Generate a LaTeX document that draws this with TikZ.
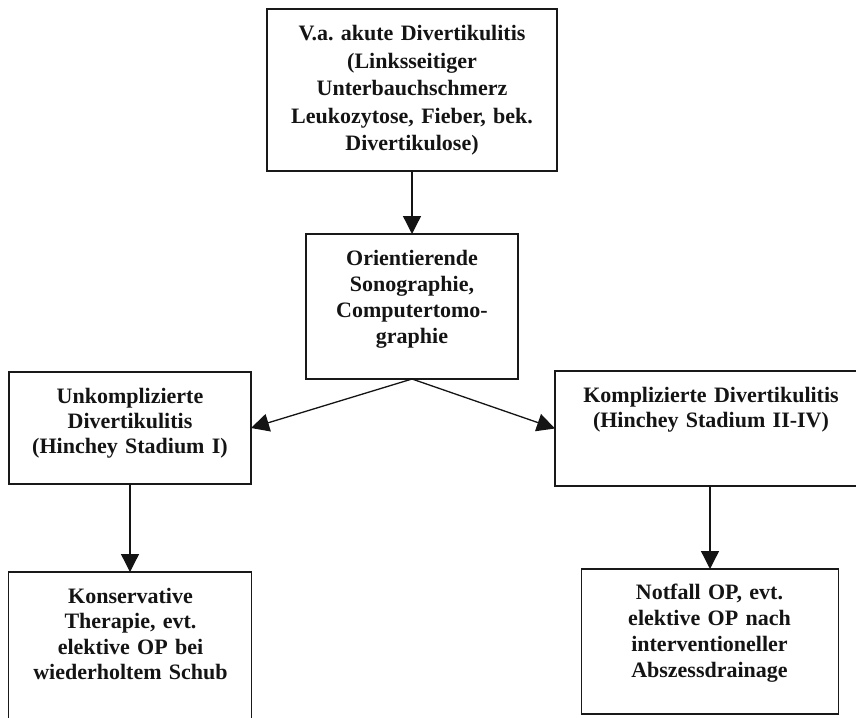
\documentclass[tikz,border=0pt]{standalone}
\usepackage{fontspec}
\setmainfont{Liberation Serif}
\frenchspacing
\usetikzlibrary{arrows.meta}
\tikzset{
  box/.style={draw=black!90, line width=1.3pt, inner sep=0pt, outer sep=0pt},
  txt/.style={anchor=base, text width=#1, align=center, inner sep=0pt,
    font=\fontsize{22}{26}\selectfont\bfseries, text=black!92},
  arr/.style={line width=1.3pt, draw=black!92, -{Triangle[length=18pt,width=18pt]}},
}
\begin{document}
\begin{tikzpicture}[x=1pt,y=-1pt]
\useasboundingbox (0,0) rectangle (856,717);
\clip (0,0) rectangle (856,717);
% boxes
\node[box, minimum width=290pt, minimum height=162pt] (top) at (412,90) {};
\node[box, minimum width=212pt, minimum height=145pt] (orient) at (412,306.5) {};
\node[box, minimum width=242pt, minimum height=112pt] (left) at (130,428) {};
\node[box, minimum width=315pt, minimum height=115pt] (right) at (712.5,428.5) {};
\node[box, minimum width=243pt, minimum height=168pt] (bl) at (130,656) {};
\node[box, minimum width=257pt, minimum height=145pt] (br) at (710,641.5) {};
% texts
\node[txt=285pt, font=\fontsize{22}{27.4}\selectfont\bfseries] (toptxt) at (412,41)
  {V.a. akute Divertikulitis\\(Linksseitiger\\Unterbauchschmerz\\Leukozytose, Fieber, bek.\\Divertikulose)};
\node[txt=205pt] (orienttxt) at (412,265)
  {Orientierende\\Sonographie,\\Computertomo-\\graphie};
\node[txt=238pt, font=\fontsize{22}{25}\selectfont\bfseries] (lefttxt) at (130,403)
  {Unkomplizierte\\Divertikulitis\\(Hinchey Stadium I)};
\node[txt=290pt, font=\fontsize{22}{25}\selectfont\bfseries] (righttxt) at (711,402)
  {Komplizierte Divertikulitis\\(Hinchey Stadium II-IV)};
\node[txt=238pt, font=\fontsize{22}{25.5}\selectfont\bfseries] (bltxt) at (130.5,603)
  {Konservative\\Therapie, evt.\\elektive OP bei\\wiederholtem Schub};
\node[txt=250pt, font=\fontsize{22}{26}\selectfont\bfseries] (brtxt) at (709.5,599)
  {Notfall OP, evt.\\elektive OP nach\\interventioneller\\Abszessdrainage};
% connectors
\draw[arr] (top.south) -- (orient.north);
\draw[arr] (orient.south) -- (left.east);
\draw[arr] (orient.south) -- (right.west);
\draw[arr] (left.south) -- (left.south |- bl.north);
\draw[arr] (br.north |- right.south) -- (br.north);
\end{tikzpicture}
\end{document}
